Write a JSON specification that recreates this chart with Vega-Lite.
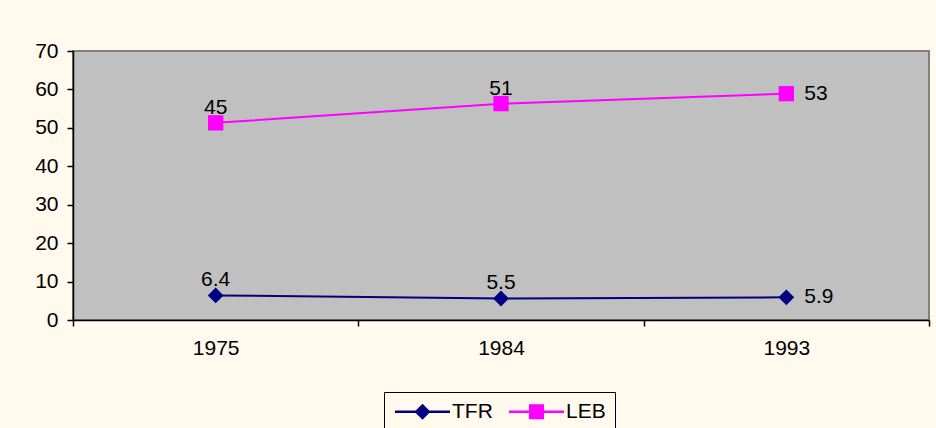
{
  "$schema": "https://vega.github.io/schema/vega-lite/v6.json",
  "width": 856,
  "height": 269,
  "autosize": {"type": "none"},
  "padding": {"left": 73, "top": 51, "right": 7, "bottom": 108},
  "background": "#FFF9EE",
  "config": {
    "font": "Liberation Sans",
    "view": {"fill": "#C0C0C0", "stroke": "#808080", "strokeWidth": 2},
    "axis": {
      "labelFont": "Liberation Sans",
      "labelFontSize": 21,
      "labelColor": "#000000",
      "domainColor": "#000000",
      "domainWidth": 1.5,
      "tickColor": "#000000",
      "tickWidth": 1.5,
      "tickSize": 6,
      "grid": false,
      "title": null
    }
  },
  "data": {
    "values": [
      {"year": "1975", "series": "TFR", "value": 6.4, "label": "6.4"},
      {"year": "1984", "series": "TFR", "value": 5.6, "label": "5.5"},
      {"year": "1993", "series": "TFR", "value": 5.9, "label": "5.9"},
      {"year": "1975", "series": "LEB", "value": 51.3, "label": "45"},
      {"year": "1984", "series": "LEB", "value": 56.3, "label": "51"},
      {"year": "1993", "series": "LEB", "value": 58.9, "label": "53"}
    ]
  },
  "encoding": {
    "x": {
      "field": "year",
      "type": "nominal",
      "sort": ["1975", "1984", "1993"],
      "scale": {"type": "band", "paddingInner": 0, "paddingOuter": 0},
      "axis": {"labelAngle": 0, "tickBand": "extent", "labelPadding": 11}
    },
    "y": {
      "field": "value",
      "type": "quantitative",
      "scale": {"domain": [0, 70], "nice": false},
      "axis": {"values": [0, 10, 20, 30, 40, 50, 60, 70], "labelPadding": 9}
    }
  },
  "layer": [
    {
      "mark": {"type": "line", "strokeWidth": 2},
      "encoding": {
        "color": {
          "field": "series",
          "type": "nominal",
          "scale": {"domain": ["TFR", "LEB"], "range": ["#000080", "#FF00FF"]},
          "legend": {
            "orient": "none",
            "legendX": 311,
            "legendY": 341,
            "direction": "horizontal",
            "title": null,
            "padding": 9,
            "strokeColor": "#000000",
            "fillColor": "#FFF9EE",
            "labelFont": "Liberation Sans",
            "labelFontSize": 21,
            "labelColor": "#000000",
            "symbolSize": 256,
            "symbolStrokeWidth": 0,
            "symbolOffset": 19,
            "labelOffset": 19,
            "columnPadding": 14,
            "encode": {
              "symbols": {
                "update": {
                  "shape": {"signal": "datum.value === 'TFR' ? 'M-3.44,-0.15H3.44V0.15H-3.44ZM0,-1L1,0L0,1L-1,0Z' : 'M-3.44,-0.15H3.44V0.15H-3.44ZM-0.94,-0.94H0.94V0.94H-0.94Z'"},
                  "fill": {"signal": "datum.value === 'TFR' ? '#000080' : '#FF00FF'"},
                  "opacity": {"value": 1},
                  "fillOpacity": {"value": 1}
                }
              }
            }
          }
        }
      }
    },
    {
      "transform": [{"filter": "datum.series === 'TFR'"}],
      "mark": {"type": "point", "filled": true, "opacity": 1, "size": 250, "shape": "diamond"},
      "encoding": {
        "color": {"field": "series", "type": "nominal", "legend": null}
      }
    },
    {
      "transform": [{"filter": "datum.series === 'LEB'"}],
      "mark": {"type": "point", "filled": true, "opacity": 1, "size": 235, "shape": "square"},
      "encoding": {
        "color": {"field": "series", "type": "nominal", "legend": null}
      }
    },
    {
      "transform": [{"filter": "datum.year !== '1993'"}],
      "mark": {"type": "text", "baseline": "alphabetic", "align": "center", "dy": -9, "fontSize": 21, "font": "Liberation Sans", "color": "#000000"},
      "encoding": {"text": {"field": "label"}}
    },
    {
      "transform": [{"filter": "datum.year === '1993'"}],
      "mark": {"type": "text", "baseline": "middle", "align": "left", "dx": 18, "fontSize": 21, "font": "Liberation Sans", "color": "#000000"},
      "encoding": {"text": {"field": "label"}}
    }
  ]
}
